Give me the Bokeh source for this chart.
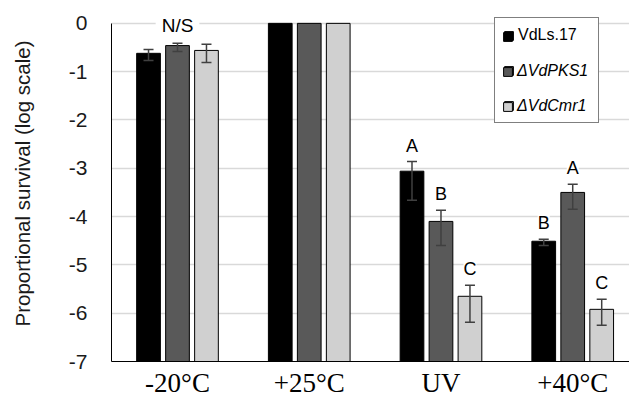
from bokeh.plotting import figure
from bokeh.models import (ColumnDataSource, Range1d, Whisker, LabelSet, Label,
                          Legend, LegendItem, FixedTicker, TeeHead)
from bokeh.core.properties import value
from bokeh.embed import file_html
from bokeh.resources import INLINE

nan = float("nan")

# ---- data ----
treatments = ["-20°C", "+25°C", "UV", "+40°C"]
strains = ["VdLs.17", "ΔVdPKS1", "ΔVdCmr1"]
strain_italic = [False, True, True]
colors = ["#000000", "#595959", "#d0d0d0"]

vdls17 = [-0.62, 0.0, -3.06, -4.51]
vdls17_upper = [-0.54, nan, -2.86, -4.47]
vdls17_lower = [-0.77, nan, -3.66, -4.60]
vdls17_letters = ["", "", "A", "B"]

dvdpks1 = [-0.46, 0.0, -4.10, -3.50]
dvdpks1_upper = [-0.41, nan, -3.87, -3.33]
dvdpks1_lower = [-0.58, nan, -4.60, -3.85]
dvdpks1_letters = ["", "", "B", "A"]

dvdcmr1 = [-0.56, 0.0, -5.65, -5.92]
dvdcmr1_upper = [-0.43, nan, -5.42, -5.71]
dvdcmr1_lower = [-0.81, nan, -6.19, -6.25]
dvdcmr1_letters = ["", "", "C", "C"]

ns_label = "N/S"
ns_group = 0

y_ticks = [0, -1, -2, -3, -4, -5, -6, -7]
y_tick_labels = ["0", "-1", "-2", "-3", "-4", "-5", "-6", "-7"]
y_min, y_max = -7, 0

series = [
    (vdls17, vdls17_upper, vdls17_lower, vdls17_letters),
    (dvdpks1, dvdpks1_upper, dvdpks1_lower, dvdpks1_letters),
    (dvdcmr1, dvdcmr1_upper, dvdcmr1_lower, dvdcmr1_letters),
]
offsets = [-0.22, 0.0, 0.22]
bar_width = 0.18
top_headroom = 0.37  # room above the axis for the N/S annotation

p = figure(width=629, height=404, output_backend="svg", toolbar_location=None,
           x_range=Range1d(-0.501, 3.431),
           y_range=Range1d(y_min, y_max + top_headroom),
           min_border_left=111, min_border_right=0, min_border_top=5,
           min_border_bottom=43)
p.outline_line_color = None
p.background_fill_color = "white"
p.border_fill_color = "white"

bar_renderers = []
for (vals, up, lo, letters), off, col, name in zip(series, offsets, colors, strains):
    xs = [i + off for i in range(len(treatments))]
    src = ColumnDataSource(dict(x=xs, top=vals, bottom=[y_min] * len(vals),
                                upper=up, lower=lo))
    r = p.vbar(x="x", top="top", bottom="bottom", width=bar_width, source=src,
               fill_color=col, line_color="#000000", line_width=1)
    bar_renderers.append(r)
    w = Whisker(base="x", upper="upper", lower="lower", source=src, level="overlay",
                line_color="#404040", line_width=1.5,
                upper_head=TeeHead(size=10, line_color="#404040", line_width=1.5),
                lower_head=TeeHead(size=10, line_color="#404040", line_width=1.5))
    p.add_layout(w)
    lx = [x for x, t in zip(xs, letters) if t]
    ly = [u for u, t in zip(up, letters) if t]
    lt = [t for t in letters if t]
    lsrc = ColumnDataSource(dict(x=lx, y=ly, text=lt))
    ls = LabelSet(x="x", y="y", text="text", source=lsrc, text_align="center",
                  text_baseline="alphabetic", y_offset=10,
                  text_font=value("Liberation Sans"), text_font_size=value("18px"),
                  text_color="#000000", background_fill_color="white")
    p.add_layout(ls)

ns = Label(x=ns_group, y=y_max, text=ns_label, text_align="center",
           text_baseline="alphabetic", y_offset=-2,
           text_font="Liberation Sans", text_font_size="19px",
           text_color="#000000", background_fill_color="white", padding=6)
p.add_layout(ns)

# axes
p.xaxis.ticker = FixedTicker(ticks=list(range(len(treatments))))
p.xaxis.major_label_overrides = {i: t for i, t in enumerate(treatments)}
p.xaxis.major_label_text_font = "Liberation Serif"
p.xaxis.major_label_text_font_size = "27px"
p.xaxis.major_label_text_color = "#000000"
p.xaxis.major_tick_line_color = None
p.xaxis.minor_tick_line_color = None
p.xaxis.major_tick_out = 0
p.xaxis.major_tick_in = 0
p.xaxis.major_label_standoff = 6
p.xaxis.axis_line_color = "#000000"
p.xaxis.axis_line_width = 1

p.yaxis.ticker = FixedTicker(ticks=y_ticks)
p.yaxis.bounds = (y_min, y_max)
p.yaxis.major_label_overrides = {t: s for t, s in zip(y_ticks, y_tick_labels)}
p.yaxis.major_label_text_font = "Liberation Sans"
p.yaxis.major_label_text_font_size = "21px"
p.yaxis.major_label_text_color = "#1a1a1a"
p.yaxis.major_tick_line_color = None
p.yaxis.minor_tick_line_color = None
p.yaxis.major_tick_out = 0
p.yaxis.major_tick_in = 0
p.yaxis.major_label_standoff = 24
p.yaxis.axis_line_color = "#000000"
p.yaxis.axis_line_width = 1
p.yaxis.axis_label = "Proportional survival (log scale)"
p.yaxis.axis_label_text_font = "Liberation Sans"
p.yaxis.axis_label_text_font_size = "20.5px"
p.yaxis.axis_label_text_font_style = "normal"
p.yaxis.axis_label_text_color = "#1a1a1a"
p.yaxis.axis_label_standoff = 32

p.xgrid.grid_line_color = None
p.ygrid.ticker = FixedTicker(ticks=y_ticks)
p.ygrid.grid_line_color = "#d9d9d9"
p.ygrid.grid_line_width = 1.5

legend_style = dict(location=(383, 238), orientation="vertical",
                    label_text_font="Liberation Sans", label_text_font_size="16px",
                    label_text_color="#000000", glyph_width=11, glyph_height=11,
                    label_height=18, label_width=72, spacing=17, padding=8,
                    margin=0, label_standoff=4)

# box, swatches and upright labels
legend_a = Legend(items=[LegendItem(label=(n if not it else " "), renderers=[r])
                         for n, it, r in zip(strains, strain_italic, bar_renderers)],
                  label_text_font_style="normal",
                  border_line_color="#000000", border_line_width=1.5,
                  background_fill_color="white", background_fill_alpha=1.0,
                  **legend_style)
# identical layout, italic labels only (transparent box)
legend_b = Legend(items=[LegendItem(label=(n if it else " "), renderers=[r])
                         for n, it, r in zip(strains, strain_italic, bar_renderers)],
                  label_text_font_style="italic",
                  border_line_color="#000000", border_line_width=1.5,
                  border_line_alpha=0.0, background_fill_alpha=0.0,
                  **legend_style)
p.add_layout(legend_a)
p.add_layout(legend_b)

open("out.html", "w").write(file_html(p, INLINE))
